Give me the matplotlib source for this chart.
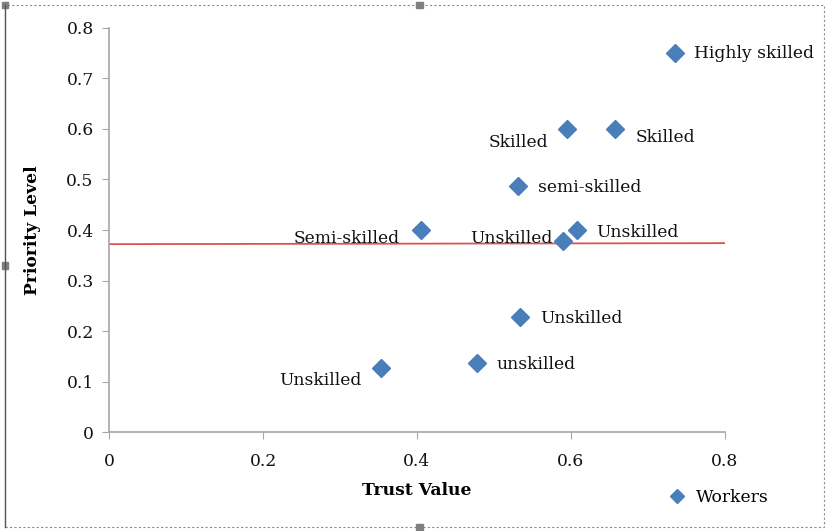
import matplotlib.pyplot as plt
from matplotlib.patches import Rectangle

# Datos
trust = [0.735, 0.595, 0.657, 0.531, 0.405, 0.590, 0.608, 0.534, 0.478, 0.353]
priority = [0.75, 0.60, 0.60, 0.487, 0.40, 0.378, 0.40, 0.228, 0.137, 0.127]
labels = ['Highly skilled', 'Skilled', 'Skilled', 'semi-skilled', 'Semi-skilled',
          'Unskilled', 'Unskilled', 'Unskilled', 'unskilled', 'Unskilled']
# desplazamiento de cada etiqueta (pixeles)
offsets = [(19, 0), (-78, -14), (21, -9), (20, -1), (-127, -8),
           (-93, 3), (19, -2), (20, -2), (19, -2), (-102, -13)]

line_x = [0.0, 0.8]
line_y = [0.372, 0.374]

xticks = [0, 0.2, 0.4, 0.6, 0.8]
yticks = [0, 0.1, 0.2, 0.3, 0.4, 0.5, 0.6, 0.7, 0.8]

plt.rcParams['font.family'] = ['DejaVu Serif']

fig = plt.figure(figsize=(8.29, 5.31), dpi=100)
ax = fig.add_axes([0.1315, 0.1864, 0.743, 0.7609])

blue = '#4a7ebb'
grey = '#a6a6a6'

ax.plot(line_x, line_y, color='#d9534f', lw=1.3, zorder=1)
ax.plot(trust, priority, 'D', color=blue, markersize=9, label='Workers', zorder=3)

for x, y, lab, off in zip(trust, priority, labels, offsets):
    ax.annotate(lab, (x, y), xytext=off, textcoords='offset pixels',
                ha='left', va='center', fontsize=12.3, color='#111111')

ax.set_xlim(0, 0.8)
ax.set_ylim(0, 0.8)
ax.set_xticks(xticks)
ax.set_yticks(yticks)
ax.set_xticklabels(['0', '0.2', '0.4', '0.6', '0.8'])
ax.set_yticklabels(['0', '0.1', '0.2', '0.3', '0.4', '0.5', '0.6', '0.7', '0.8'])
ax.tick_params(direction='out', length=5, color=grey, labelsize=12.3, pad=6,
               labelcolor='#111111')
ax.tick_params(axis='x', pad=10)

for side in ['top', 'right']:
    ax.spines[side].set_visible(False)
for side in ['left', 'bottom']:
    ax.spines[side].set_color(grey)
    ax.spines[side].set_linewidth(1.2)

ax.set_xlabel('Trust Value', fontweight='bold', fontsize=12.3, labelpad=9)
ax.set_ylabel('Priority Level', fontweight='bold', fontsize=12.3, labelpad=18)

fig.legend(loc='center left', bbox_to_anchor=(0.788, 0.064), frameon=False,
           fontsize=12.3, handletextpad=0.1, markerscale=0.75, borderaxespad=0)

# Marco punteado del objeto
fig.patches.append(Rectangle((0.006, 0.008), 0.988, 0.982, transform=fig.transFigure,
                             fill=False, ls=(0, (2, 2)), lw=0.8, ec='#8c8c8c'))
fig.lines.append(plt.Line2D([0.006, 0.006], [0.008, 0.99], transform=fig.transFigure,
                            color='#555555', lw=1.0))
for hx, hy in [(0.006, 0.99), (0.506, 0.99), (0.006, 0.5), (0.506, 0.008)]:
    fig.patches.append(Rectangle((hx - 0.004, hy - 0.006), 0.008, 0.012,
                                 transform=fig.transFigure, color='#7f7f7f'))

fig.savefig('out.png', dpi=100)
